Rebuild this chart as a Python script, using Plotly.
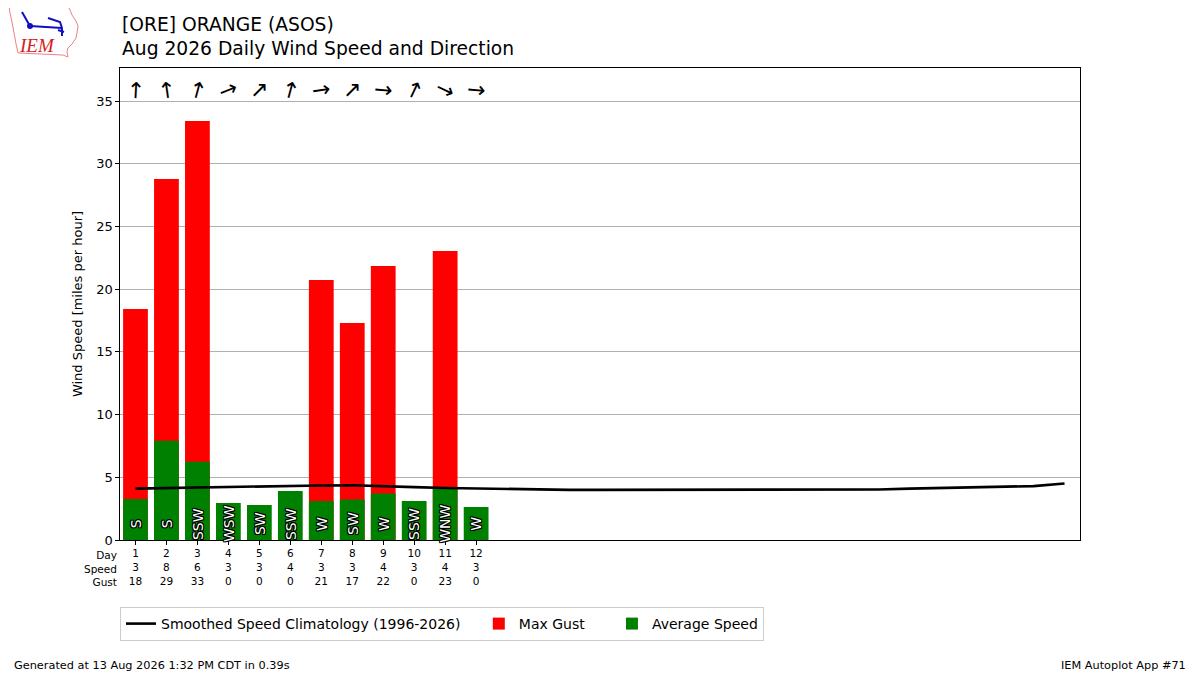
import plotly.graph_objects as go

# daily values (mph)
days = list(range(1, 13))
avg_speed = [3.27, 7.92, 6.25, 2.95, 2.79, 3.91, 3.11, 3.22, 3.70, 3.11, 4.09, 2.63]
max_gust = [18.42, 28.79, 33.41, 0, 0, 0, 20.73, 17.30, 21.85, 0, 23.05, 0]
wind_dir = [183, 172, 195, 248, 225, 195, 262, 225, 275, 205, 295, 275]  # degrees, wind from
dir_text = ["S", "S", "SSW", "WSW", "SW", "SSW", "W", "SW", "W", "SSW", "WNW", "W"]

clim_days = list(range(1, 32))
clim_speed = [4.10, 4.15, 4.20, 4.20, 4.25, 4.30, 4.35, 4.37, 4.32, 4.22, 4.15, 4.10,
              4.05, 4.00, 4.00, 4.00, 4.00, 4.03, 4.05, 4.05, 4.05, 4.03, 4.00, 4.00,
              4.03, 4.10, 4.15, 4.20, 4.22, 4.30, 4.50]

FONT = "DejaVu Sans"
NB = "\u00a0"

# page has an 8px body margin, so the figure is a bit smaller than the window
W, H = 1192, 667
ML, MR, MT, MB = 112, 120, 60, 135
PW, PH = W - ML - MR, H - MT - MB


def to_paper(sx, sy):
    # screen pixel -> paper coords (used only for the logo drawing)
    return (sx - 8 - ML) / PW, (H - MB - (sy - 8)) / PH


def path_from(points, close=True):
    pts = [to_paper(x, y) for x, y in points]
    s = "M " + " L ".join(f"{x:.4f} {y:.4f}" for x, y in pts)
    return s + (" Z" if close else "")


fig = go.Figure()
fig.add_trace(go.Scatter(x=clim_days, y=clim_speed, mode="lines",
                         line=dict(color="black", width=2.6),
                         name="Smoothed Speed Climatology (1996-2026)" + NB * 3))
fig.add_trace(go.Bar(x=days, y=max_gust, width=0.8, marker=dict(color="#ff0000", line_width=0),
                     name="Max Gust" + NB * 5))
fig.add_trace(go.Bar(x=days, y=avg_speed, width=0.8, marker=dict(color="#008000", line_width=0),
                     name="Average Speed"))

# table under the axis: day / rounded speed / rounded gust
ticktext = [f"{d}<br>{round(s)}<br>{round(g)}" for d, s, g in zip(days, avg_speed, max_gust)]

outline = ("-1px -1px 0 black, 1px -1px 0 black, -1px 1px 0 black, 1px 1px 0 black, "
           "0 1px 0 black, 0 -1px 0 black, 1px 0 0 black, -1px 0 0 black")

annos = []
for d, deg, lab in zip(days, wind_dir, dir_text):
    rot = (deg + 90) % 360
    if rot > 180:
        rot -= 360
    annos.append(dict(x=d, y=35.9, xref="x", yref="y", text="→", showarrow=False,
                      textangle=rot, font=dict(family=FONT, size=22, color="black")))
    annos.append(dict(x=d, y=1.3, xref="x", yref="y", text=lab, showarrow=False,
                      textangle=-90,
                      font=dict(family=FONT, size=14, color="white", shadow=outline)))

annos.append(dict(x=0, y=0, xref="paper", yref="paper", xanchor="right", yanchor="top",
                  align="right", xshift=-1, yshift=-7, showarrow=False,
                  text="Day<br>Speed<br>Gust", font=dict(family=FONT, size=10.5, color="black")))
# title lines
annos.append(dict(x=0, y=1, xref="paper", yref="paper", xanchor="left", yanchor="middle",
                  yshift=44, showarrow=False, text="[ORE] ORANGE (ASOS)",
                  font=dict(family=FONT, size=18.7, color="black")))
annos.append(dict(x=0, y=1, xref="paper", yref="paper", xanchor="left", yanchor="middle",
                  yshift=20, showarrow=False, text="Aug 2026 Daily Wind Speed and Direction",
                  font=dict(family=FONT, size=18.7, color="black")))
# footer
annos.append(dict(x=0, y=0, xref="paper", yref="paper", xanchor="left", yanchor="middle",
                  xshift=-108, yshift=-125, showarrow=False,
                  text="Generated at 13 Aug 2026 1:32 PM CDT in 0.39s",
                  font=dict(family=FONT, size=11.3, color="black")))
annos.append(dict(x=1, y=0, xref="paper", yref="paper", xanchor="right", yanchor="middle",
                  xshift=108, yshift=-125, showarrow=False, text="IEM Autoplot App #71",
                  font=dict(family=FONT, size=11.3, color="black")))
# IEM logo (rough)
lx, ly = to_paper(37, 45)
annos.append(dict(x=lx, y=ly, xref="paper", yref="paper", xanchor="center", yanchor="middle",
                  showarrow=False, text="<i>IEM</i>",
                  font=dict(family="Liberation Serif", size=19, color="#d42020")))

iowa = [(9, 6), (68, 6), (70, 10), (72, 15), (76, 21), (78, 26), (77, 33), (76, 38),
        (72, 44), (68, 48), (67, 52), (68, 57), (63, 55), (40, 54), (18, 53), (16, 44),
        (14, 33), (12, 22), (10, 13)]
shapes = [dict(type="path", xref="paper", yref="paper", path=path_from(iowa),
               line=dict(color="#f08080", width=1))]
blue = "#1010c0"
for seg in ([(30, 26), (62, 28)], [(30, 26), (22, 12)], [(48, 18), (60, 22), (62, 28)],
            [(62, 28), (62, 36)], [(58, 30), (64, 32)]):
    shapes.append(dict(type="path", xref="paper", yref="paper", path=path_from(seg, close=False),
                       line=dict(color=blue, width=2)))
cx0, cy0 = to_paper(27, 23)
cx1, cy1 = to_paper(33, 29)
shapes.append(dict(type="circle", xref="paper", yref="paper", x0=cx0, y0=cy0, x1=cx1, y1=cy1,
                   fillcolor=blue, line=dict(color=blue, width=0)))

fig.update_layout(
    width=W, height=H,
    margin=dict(l=ML, r=MR, t=MT, b=MB),
    paper_bgcolor="white", plot_bgcolor="white",
    font=dict(family=FONT, size=13, color="black"),
    barmode="overlay",
    showlegend=True,
    legend=dict(orientation="h", x=0, xanchor="left", y=-67 / PH, yanchor="top",
                bordercolor="#cccccc", borderwidth=1, font=dict(family=FONT, size=14),
                traceorder="normal"),
    annotations=annos,
    shapes=shapes,
)
fig.update_xaxes(range=[0.5, 31.5], tickvals=days, ticktext=ticktext,
                 ticks="outside", ticklen=3.5, tickcolor="black",
                 tickfont=dict(family=FONT, size=10.5),
                 showline=True, linecolor="black", linewidth=1.2, mirror=True,
                 showgrid=False, zeroline=False)
fig.update_yaxes(range=[0, 37.64], tickvals=[0, 5, 10, 15, 20, 25, 30, 35],
                 ticks="outside", ticklen=3.5, tickcolor="black",
                 tickfont=dict(family=FONT, size=13),
                 showline=True, linecolor="black", linewidth=1.2, mirror=True,
                 showgrid=True, gridcolor="#b0b0b0", gridwidth=1, zeroline=False,
                 title=dict(text="Wind Speed [miles per hour]", font=dict(family=FONT, size=13),
                            standoff=10))

fig.write_html("out.html")
